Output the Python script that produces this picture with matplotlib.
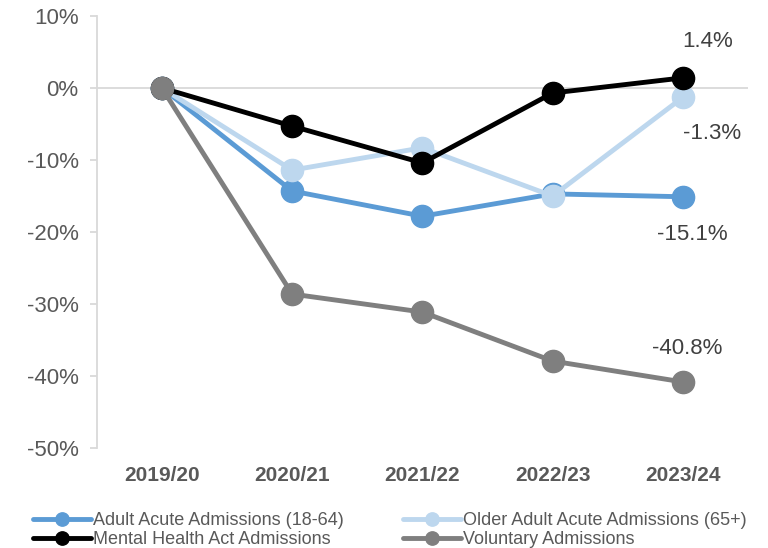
import matplotlib.pyplot as plt
from matplotlib.ticker import FuncFormatter

plt.rcParams['font.family'] = ['Liberation Sans', 'DejaVu Sans']

years = ["2019/20", "2020/21", "2021/22", "2022/23", "2023/24"]
adult_acute = [0, -14.3, -17.8, -14.7, -15.1]
older_adult = [0, -11.4, -8.3, -15.0, -1.3]
mental_health_act = [0, -5.3, -10.4, -0.7, 1.4]
voluntary = [0, -28.6, -31.1, -37.9, -40.8]

series = [
    ("Adult Acute Admissions (18-64)", adult_acute, "#5B9BD5"),
    ("Older Adult Acute Admissions (65+)", older_adult, "#BDD7EE"),
    ("Mental Health Act Admissions", mental_health_act, "#000000"),
    ("Voluntary Admissions", voluntary, "#7F7F7F"),
]

fig = plt.figure(figsize=(7.68, 5.48), dpi=100)
ax = fig.add_axes([0.126, 0.182, 0.848, 0.789])

x = list(range(len(years)))
handles = []
for name, vals, col in series:
    h, = ax.plot(x, vals, color=col, lw=3.5, marker="o", markersize=16, label=name,
                 solid_capstyle="round")
    handles.append(h)

# end labels
label_color = "#404040"
ax.annotate("1.4%", (4, mental_health_act[-1]), xytext=(18, 26), textcoords="offset points",
            ha="center", va="center", fontsize=16, color=label_color)
ax.annotate("-1.3%", (4, older_adult[-1]), xytext=(21, -26), textcoords="offset points",
            ha="center", va="center", fontsize=16, color=label_color)
ax.annotate("-15.1%", (4, adult_acute[-1]), xytext=(7, -27), textcoords="offset points",
            ha="center", va="center", fontsize=16, color=label_color)
ax.annotate("-40.8%", (4, voluntary[-1]), xytext=(3, 24), textcoords="offset points",
            ha="center", va="center", fontsize=16, color=label_color)

ax.set_xlim(-0.5, 4.5)
ax.set_ylim(-50, 10)
ax.set_yticks(range(-50, 11, 10))
ax.yaxis.set_major_formatter(FuncFormatter(lambda v, p: f"{v:.0f}%"))
ax.set_xticks(x)
ax.set_xticklabels(years, fontweight="bold")

ax.axhline(0, color="#D9D9D9", lw=1.3, zorder=0)
for s in ["top", "right", "bottom"]:
    ax.spines[s].set_visible(False)
ax.spines["left"].set_color("#D9D9D9")
ax.spines["left"].set_linewidth(1.3)
ax.tick_params(axis="y", colors="#D9D9D9", labelcolor="#595959", labelsize=16,
               length=5, width=1.3, pad=8)
ax.tick_params(axis="x", length=0, labelcolor="#595959", labelsize=15, pad=13)

# row-wise legend order: Adult, Older / MHA, Voluntary
order = [0, 2, 1, 3]
fig.legend([handles[i] for i in order], [series[i][0] for i in order],
           loc="lower left", bbox_to_anchor=(0.022, -0.03), ncol=2, frameon=False,
           fontsize=13, handlelength=3.2, handletextpad=0.1, columnspacing=3.3,
           labelspacing=0.12, markerscale=0.6, labelcolor="#595959")

fig.savefig("out.png", dpi=100)
